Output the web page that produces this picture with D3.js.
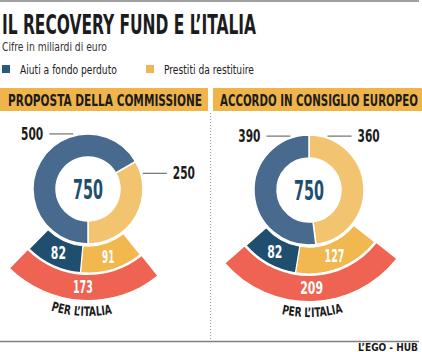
<!DOCTYPE html>
<html><head><meta charset="utf-8">
<script src="https://cdn.jsdelivr.net/npm/d3@7"></script>
<style>body{margin:0;background:#fff}svg{display:block}</style>
</head><body>
<svg id="chart" width="422" height="352"></svg>
<script>
// ---- DATA ----
const titleText = "IL RECOVERY FUND E L\u2019ITALIA";
const subtitleText = "Cifre in miliardi di euro";
const seriesNames = ["Aiuti a fondo perduto", "Prestiti da restituire"];
const panelTitles = ["PROPOSTA DELLA COMMISSIONE", "ACCORDO IN CONSIGLIO EUROPEO"];
const fundTotal = [750, 750];
const aiutiTotal = [500, 390];
const prestitiTotal = [250, 360];
const aiutiItalia = [82, 82];
const prestitiItalia = [91, 127];
const italiaTotal = [173, 209];
const italiaLabel = "PER L\u2019ITALIA";
const sourceText = "L\u2019EGO - HUB";

// ---- STYLE / LAYOUT ----
const COND = "'Liberation Sans Narrow','DejaVu Sans Condensed','Arial Narrow',sans-serif";
const C = {
  blueRing: "#486a8e", blueBand: "#1f4e6f", yellowRing: "#f3c46f", yellowBand: "#f0b84f",
  red: "#ee6351", header: "#f0b54a", legendBlue: "#285a7e", legendYellow: "#f1b654",
  text: "#1c1c1c", center: "#1f4e6f"
};
const panels = [
  {cx: 88, cy: 189, donutStart: 60, fanCenter: 183, lblA: [-15, 74], hx: 0, hw: 208, tx: 8, tw: 194},
  {cx: 309, cy: 190, donutStart: 0, fanCenter: 178.5, lblA: [-19, 19], hx: 213, hw: 209, tx: 220, tw: 198}
];
const R = {in: 32, out: 55, midIn: 57, midOut: 84, redIn: 86, redOut: 111, text: 127};

const svg = d3.select("#chart");
const rad = d => d * Math.PI / 180;
// horizontally condense a text to a target width by scaling about its anchor point
function fit(sel, w) {
  const node = sel.node();
  const x = +sel.attr("x") || 0, y = +sel.attr("y") || 0;
  const w0 = node.getComputedTextLength();
  const sx = w0 > 0 ? w / w0 : 1;
  sel.attr("x", 0).attr("y", 0).attr("transform", `translate(${x},${y}) scale(${sx},1)`);
  return sel;
}
// width of a condensed numeral string ("1" is narrower)
function numW(s, unit) { return String(s).split("").reduce((t, ch) => t + (ch === "1" ? unit * 0.62 : unit), 0); }

// frame lines
svg.append("line").attr("x1", 0).attr("x2", 419).attr("y1", 1).attr("y2", 1).attr("stroke", "#808080").attr("stroke-width", 1.5);
svg.append("line").attr("x1", 0).attr("x2", 419).attr("y1", 341.5).attr("y2", 341.5).attr("stroke", "#808080").attr("stroke-width", 1.5);
svg.append("line").attr("x1", 210.5).attr("x2", 210.5).attr("y1", 113).attr("y2", 340).attr("stroke", "#9a9a9a").attr("stroke-dasharray", "1,2");

// title
fit(svg.append("text").attr("x", 2).attr("y", 33.5).attr("font-family", COND).attr("font-weight", "bold")
  .attr("font-size", 27).attr("fill", C.text).text(titleText), 254);
fit(svg.append("text").attr("x", 2).attr("y", 51).attr("font-family", COND)
  .attr("font-size", 12).attr("fill", "#333").text(subtitleText), 105);

// legend
const legColors = [C.legendBlue, C.legendYellow];
const legX = [2, 146], legTW = [97, 90];
seriesNames.forEach((n, i) => {
  svg.append("rect").attr("x", legX[i]).attr("y", 65).attr("width", 8).attr("height", 8).attr("fill", legColors[i]);
  fit(svg.append("text").attr("x", legX[i] + 18).attr("y", 74).attr("font-family", COND)
    .attr("font-size", 13).attr("fill", "#222").text(n), legTW[i]);
});

// angle scale
const angle = d3.scaleLinear().domain([0, fundTotal[0]]).range([0, 2 * Math.PI]);

panels.forEach((p, i) => {
  // header
  svg.append("rect").attr("x", p.hx).attr("y", 88).attr("width", p.hw).attr("height", 23).attr("fill", C.header);
  fit(svg.append("text").attr("x", p.tx).attr("y", 106).attr("font-family", COND).attr("font-weight", "bold")
    .attr("font-size", 15.5).attr("fill", C.text).text(panelTitles[i]), p.tw);

  const g = svg.append("g").attr("transform", `translate(${p.cx},${p.cy})`);

  // donut: prestiti then aiuti clockwise
  const donutData = [
    {k: "p", v: prestitiTotal[i], c: C.yellowRing},
    {k: "a", v: aiutiTotal[i], c: C.blueRing}
  ];
  const s0 = rad(p.donutStart);
  const pie = d3.pie().sort(null).value(d => d.v).startAngle(s0).endAngle(s0 + angle(fundTotal[i]));
  const arcD = d3.arc().innerRadius(R.in).outerRadius(R.out);
  const slices = pie(donutData);
  g.selectAll(".d").data(slices).join("path").attr("d", arcD).attr("fill", d => d.data.c)
    .attr("stroke", "#fff").attr("stroke-width", 1.5);

  // center total
  fit(g.append("text").attr("x", 0).attr("y", 10).attr("text-anchor", "middle").attr("font-family", COND)
    .attr("font-weight", "bold").attr("font-size", 27).attr("fill", C.center).text(fundTotal[i]), 30);

  // outer labels with leader lines
  const outerVals = [aiutiTotal[i], prestitiTotal[i]];
  outerVals.forEach((v, j) => {
    const a = rad(p.lblA[j]);
    const x0 = Math.sin(a) * (R.out + 2), y0 = -Math.cos(a) * (R.out + 2);
    const dir = Math.sin(a) < 0 ? -1 : 1;
    const x1 = x0 + dir * 24;
    g.append("line").attr("x1", x0).attr("x2", x1).attr("y1", y0).attr("y2", y0).attr("stroke", "#555").attr("stroke-width", 1);
    fit(g.append("text").attr("x", x1 + dir * 6).attr("y", y0 + 6).attr("text-anchor", dir < 0 ? "end" : "start")
      .attr("font-family", COND).attr("font-weight", "bold").attr("font-size", 17).attr("fill", C.text).text(v), numW(v, 7.4));
  });

  // fan for Italy
  const fc = rad(p.fanCenter), span = angle(italiaTotal[i]);
  const fs = fc - span / 2, fe = fc + span / 2;
  const fanData = [
    {v: prestitiItalia[i], c: C.yellowBand},
    {v: aiutiItalia[i], c: C.blueBand}
  ];
  const fanPie = d3.pie().sort(null).value(d => d.v).startAngle(fs).endAngle(fe);
  const arcM = d3.arc().innerRadius(R.midIn).outerRadius(R.midOut);
  const fanSlices = fanPie(fanData);
  g.selectAll(".f").data(fanSlices).join("path").attr("d", arcM).attr("fill", d => d.data.c)
    .attr("stroke", "#fff").attr("stroke-width", 1.2);
  fanSlices.forEach(d => {
    const [x, y] = arcM.centroid(d);
    fit(g.append("text").attr("x", x).attr("y", y + 6).attr("text-anchor", "middle").attr("font-family", COND)
      .attr("font-weight", "bold").attr("font-size", 17.5).attr("fill", "#fff").text(d.data.v), numW(d.data.v, 7.6));
  });
  const arcR = d3.arc().innerRadius(R.redIn).outerRadius(R.redOut).startAngle(fs).endAngle(fe);
  g.append("path").attr("d", arcR()).attr("fill", C.red);
  const [rx, ry] = arcR.centroid();
  fit(g.append("text").attr("x", rx).attr("y", ry + 6).attr("text-anchor", "middle").attr("font-family", COND)
    .attr("font-weight", "bold").attr("font-size", 17.5).attr("fill", "#fff").text(italiaTotal[i]), numW(italiaTotal[i], 7.6));

  // curved label
  const ta = fc + rad(40), tb = fc - rad(40);
  const px = a => Math.sin(a) * R.text, py = a => -Math.cos(a) * R.text;
  g.append("path").attr("id", "tp" + i).attr("fill", "none")
    .attr("d", `M${px(ta)},${py(ta)} A${R.text},${R.text} 0 0 0 ${px(tb)},${py(tb)}`);
  g.append("text").attr("font-family", COND).attr("font-weight", "bold").attr("font-size", 13).attr("fill", C.text)
    .append("textPath").attr("href", "#tp" + i).attr("startOffset", "50%").attr("text-anchor", "middle")
    .attr("textLength", 62).attr("lengthAdjust", "spacingAndGlyphs")
    .text(italiaLabel);
});

// source
fit(svg.append("text").attr("x", 418).attr("y", 351).attr("text-anchor", "end").attr("font-family", COND)
  .attr("font-weight", "bold").attr("font-size", 11).attr("fill", C.text).text(sourceText), 60);
</script>
</body></html>
